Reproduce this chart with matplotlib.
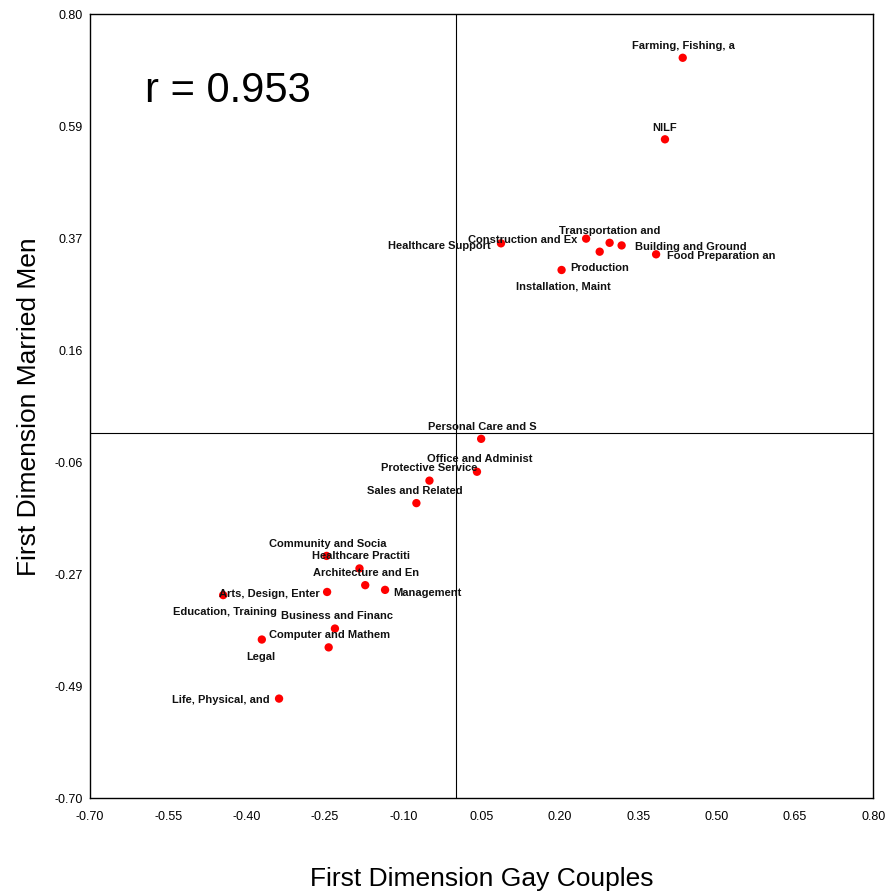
import matplotlib
matplotlib.use("Agg")
import matplotlib.pyplot as plt
import numpy as np

# ---- data ----
categories = [
    "Farming, Fishing, a", "NILF", "Healthcare Support", "Construction and Ex",
    "Transportation and", "Building and Ground", "Installation, Maint",
    "Food Preparation an", "Production", "Personal Care and S",
    "Office and Administ", "Protective Service", "Sales and Related",
    "Community and Socia", "Healthcare Practiti", "Architecture and En",
    "Management", "Arts, Design, Enter", "Education, Training",
    "Business and Financ", "Computer and Mathem", "Legal", "Life, Physical, and",
]
gay_couples = [
    0.435, 0.401, 0.087, 0.250,
    0.295, 0.318, 0.276,
    0.384, 0.203, 0.049,
    0.041, -0.050, -0.075,
    -0.247, -0.184, -0.173,
    -0.135, -0.246, -0.445,
    -0.231, -0.243, -0.371, -0.338,
]
married_men = [
    0.717, 0.561, 0.362, 0.371,
    0.363, 0.358, 0.346,
    0.341, 0.311, -0.012,
    -0.075, -0.092, -0.135,
    -0.236, -0.260, -0.292,
    -0.301, -0.305, -0.311,
    -0.375, -0.411, -0.396, -0.509,
]
x_ticks = [-0.70, -0.55, -0.40, -0.25, -0.10, 0.05, 0.20, 0.35, 0.50, 0.65, 0.80]
y_ticks = [-0.70 + k * 1.5 / 7 for k in range(8)]
r_text = "r = 0.953"

# ---- label placement (pixel offsets, ha) ----
label_pos = [
    (1, 13.4, "center"), (0, 13.3, "center"), (-10.5, -1, "right"), (-9, 0, "right"),
    (0, 13.7, "center"), (13.7, 0, "left"), (-36.7, -33, "center"),
    (11.3, 0, "left"), (8.7, 3, "left"), (1.5, 13.7, "center"),
    (2.3, 14, "center"), (-0.6, 13.7, "center"), (-1.3, 13.3, "center"),
    (1.3, 13, "center"), (1.2, 13.7, "center"), (1, 13.3, "center"),
    (8, -1.3, "left"), (-7.7, -1, "right"), (1.7, -15, "center"),
    (2, 13.7, "center"), (0.8, 13.7, "center"), (-0.9, -16, "center"), (-9, 0, "right"),
]

plt.rcParams['font.family'] = ['Liberation Sans', 'DejaVu Sans']

fig = plt.figure(figsize=(8.86, 8.94), dpi=100)
ax = fig.add_axes([0.1016, 0.1069, 0.8841, 0.8770])

ax.set_xlim(-0.70, 0.80)
ax.set_ylim(-0.70, 0.80)

ax.axvline(0, color='black', lw=0.8, zorder=1)
ax.axhline(0, color='black', lw=0.8, zorder=1)

ax.scatter(gay_couples, married_men, s=36, color='#ff0000', edgecolors='none', zorder=3)

for name, x, y, (dx, dy, ha) in zip(categories, gay_couples, married_men, label_pos):
    ax.annotate(name, (x, y), xytext=(dx, dy - 1.5), textcoords='offset pixels',
                ha=ha, va='center', fontsize=8, fontweight='bold', color='#111111',
                zorder=4)

ax.set_xticks(x_ticks)
ax.set_xticklabels([f"{v:.2f}" for v in x_ticks])
ax.set_yticks(y_ticks)
ax.set_yticklabels([f"{v:.2f}" for v in y_ticks])
ax.tick_params(axis='both', length=0, labelsize=9)
ax.tick_params(axis='x', pad=9)
ax.tick_params(axis='y', pad=5)

for sp in ax.spines.values():
    sp.set_linewidth(1.0)
    sp.set_color('black')

ax.set_xlabel("First Dimension Gay Couples", fontsize=19, labelpad=32)
ax.set_ylabel("First Dimension Married Men", fontsize=19, labelpad=10)

ax.text(0.070, 0.902, r_text, transform=ax.transAxes, fontsize=30,
        ha='left', va='center')

fig.savefig("out.png", dpi=100)
